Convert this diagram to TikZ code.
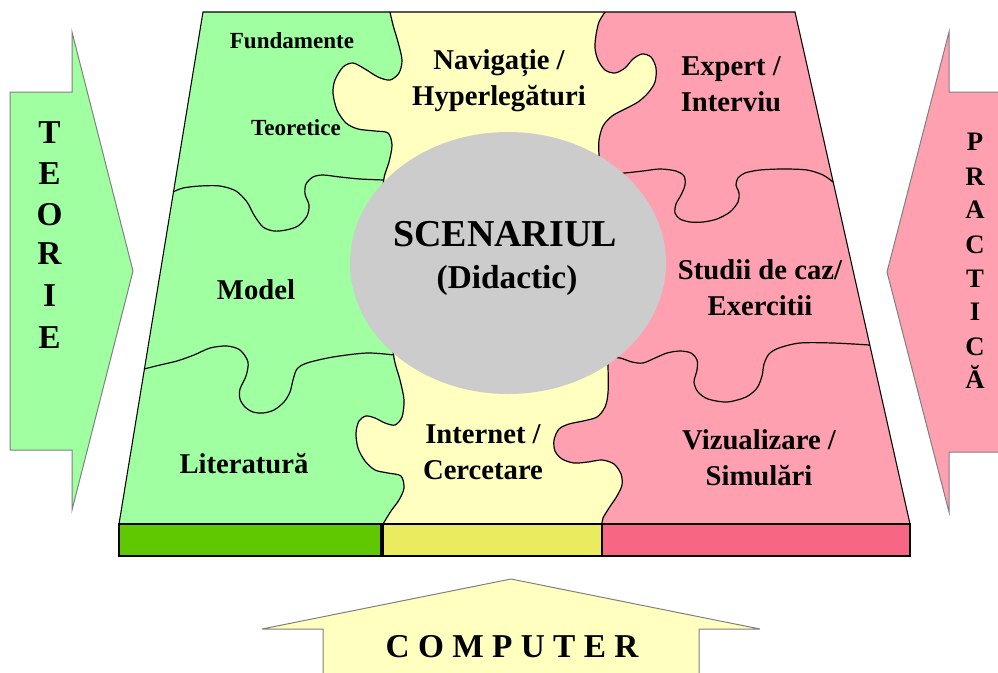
\documentclass[tikz,border=0pt]{standalone}
\usepackage{fontspec}
\setmainfont{Liberation Serif}
\usetikzlibrary{shapes.geometric}
\definecolor{gfill}{HTML}{A0FFA0}
\definecolor{yfill}{HTML}{FFFFC0}
\definecolor{pfill}{HTML}{FFA0B0}
\definecolor{gbar}{HTML}{5FC800}
\definecolor{ybar}{HTML}{EBEB5F}
\definecolor{pbar}{HTML}{F76682}
\definecolor{scen}{HTML}{CCCCCC}
\definecolor{arrline}{HTML}{808080}
\begin{document}
\begin{tikzpicture}[x=0.75pt,y=-0.75pt,
  seam/.style={line width=0.9pt,black},
  lbl/.style={font=\fontsize{21.5}{27}\selectfont\bfseries,align=center,inner sep=0pt},
  slbl/.style={font=\fontsize{17.3}{21}\selectfont\bfseries,inner sep=0pt},
  teolet/.style={font=\fontsize{25}{30}\selectfont\bfseries,inner sep=0pt,anchor=base},
  pralet/.style={font=\fontsize{20}{24}\selectfont\bfseries,inner sep=0pt,anchor=base},
  bigarrow/.style={draw=arrline,line width=0.75pt},
  barbox/.style={draw=black,line width=0.8pt}]
\useasboundingbox (0,0) rectangle (998,672);
\clip (0,0) rectangle (998,672);

% side and bottom arrows
\path[bigarrow,fill=gfill] (10,92) -- (72,92) -- (72,32) -- (133,271) -- (72,510) -- (72,450) -- (10,450) -- cycle;
\path[bigarrow,fill=pfill] (1010,92) -- (949,92) -- (949,32) -- (887,272) -- (949,512) -- (949,452) -- (1010,452) -- cycle;
\path[bigarrow,fill=yfill] (323,690) -- (323,629) -- (262,629) -- (511,579) -- (760,629) -- (699,629) -- (699,690) -- cycle;

% puzzle fills
\fill[pfill] (203,12) -- (795,12) -- (910,524) -- (119,524) -- cycle;
\fill[yfill] (203,12) -- plot[smooth] coordinates {(605,12) (599,22) (596,35) (595,48) (598,60) (605,70) (615,73) (625,68) (633,59) (642,54) (651,57) (656,68) (655,82) (648,93) (638,102) (625,109) (612,116) (603,126) (599,140) (599,155) (601,180) (604,260) (606,330) (608,367) (608,393) (605,407) (597,417) (583,421) (569,424) (559,429) (554,440) (555,451) (562,459) (574,463) (588,462) (602,460) (614,464) (621,474) (622,485) (617,496) (609,508) (603,518) (602,524)} -- (119,524) -- cycle;
\fill[gfill] (203,12) -- plot[smooth] coordinates {(390,12) (393,25) (398,42) (402,60) (399,73) (390,80) (378,77) (365,69) (353,63) (343,67) (335,80) (333,93) (337,110) (346,123) (358,129) (375,131) (388,133) (392,145) (389,162) (384,178) (383,200) (386,260) (390,320) (394,358) (400,380) (404,400) (402,417) (395,425) (385,423) (375,418) (366,416) (359,421) (356,433) (358,448) (365,461) (375,470) (388,473) (401,476) (404,488) (399,500) (391,511) (383,524)} -- (119,524) -- cycle;

% seams
\draw[seam] plot[smooth] coordinates {(605,12) (599,22) (596,35) (595,48) (598,60) (605,70) (615,73) (625,68) (633,59) (642,54) (651,57) (656,68) (655,82) (648,93) (638,102) (625,109) (612,116) (603,126) (599,140) (599,155) (601,180) (604,260) (606,330) (608,367) (608,393) (605,407) (597,417) (583,421) (569,424) (559,429) (554,440) (555,451) (562,459) (574,463) (588,462) (602,460) (614,464) (621,474) (622,485) (617,496) (609,508) (603,518) (602,524)};
\draw[seam] plot[smooth] coordinates {(390,12) (393,25) (398,42) (402,60) (399,73) (390,80) (378,77) (365,69) (353,63) (343,67) (335,80) (333,93) (337,110) (346,123) (358,129) (375,131) (388,133) (392,145) (389,162) (384,178) (383,200) (386,260) (390,320) (394,358) (400,380) (404,400) (402,417) (395,425) (385,423) (375,418) (366,416) (359,421) (356,433) (358,448) (365,461) (375,470) (388,473) (401,476) (404,488) (399,500) (391,511) (383,524)};
\draw[seam] plot[smooth] coordinates {(173,192) (183,188) (200,186) (220,186) (236,191) (247,202) (254,215) (263,227) (274,231) (286,230) (298,226) (307,216) (309,205) (305,194) (306,184) (313,177) (323,175) (340,177) (360,179) (384,180)};
\draw[seam] plot[smooth] coordinates {(144,369) (160,365) (177,361) (194,355) (210,348) (227,346) (240,350) (248,362) (246,376) (240,389) (240,399) (245,407) (253,412) (263,413) (274,410) (284,402) (290,392) (293,380) (297,369) (307,363) (333,357) (367,353) (394,355)};
\draw[seam] plot[smooth] coordinates {(600,177) (612,174) (625,173) (643,171) (660,169) (676,171) (684,176) (685,185) (681,195) (676,204) (675,213) (680,219) (690,222) (703,222) (717,219) (730,212) (738,202) (739,193) (736,185) (738,178) (745,173) (760,170) (783,169) (807,170) (823,175) (833,182)};
\draw[seam] plot[smooth] coordinates {(606,357) (620,358) (632,362) (643,363) (655,358) (667,353) (680,351) (691,353) (697,360) (697,370) (694,382) (698,392) (708,399) (727,402) (746,397) (757,388) (762,376) (764,364) (769,354) (779,348) (800,343) (833,343) (870,345)};

% outline of the board
\draw[line width=0.8pt] (119,524) -- (203,12) -- (795,12) -- (910,524);

% central ellipse
\node[ellipse,fill=scen,draw=none,inner sep=0pt,minimum width=237pt,minimum height=196.5pt] (scen) at (508,263) {};

% bars
\draw[barbox,fill=gbar] (119,524) rectangle (381,556);
\draw[barbox,fill=ybar] (383,524) rectangle (602,556);
\draw[barbox,fill=pbar] (602,524) rectangle (910,556);

% labels
\node[slbl] (fund) at (292,41) {Fundamente};
\node[slbl] (teor) at (296,127.5) {Teoretice};
\node[lbl] (nav) at (499,80.5) {Navigație /\\Hyperlegături};
\node[lbl] (exp) at (731,84.5) {Expert /\\Interviu};
\node[font=\fontsize{28.5}{34}\selectfont\bfseries,inner sep=0pt] (sc1) at (505,234) {SCENARIUL};
\node[font=\fontsize{25}{30}\selectfont\bfseries,inner sep=0pt] (sc2) at (507,280) {(Didactic)};
\node[lbl] (model) at (256,290) {Model};
\node[lbl] (stud) at (760,287.5) {Studii de caz/\\Exercitii};
\node[lbl] (inet) at (483,452.5) {Internet /\\Cercetare};
\node[lbl] (lit) at (244,464) {Literatură};
\node[lbl] (viz) at (759,458) {Vizualizare /\\Simulări};

% arrow texts
\foreach \l/\y [count=\i] in {T/143,E/184,O/225.5,R/264.5,I/306.5,E/348.5}
  \node[teolet] (teo\i) at (49.5,\y) {\l};
\foreach \l/\y [count=\i] in {P/150,R/185,A/218,C/253,T/287,I/320,C/355,Ă/388}
  \node[pralet] (pra\i) at (975,\y) {\l};
\node[font=\fontsize{25}{30}\selectfont\bfseries,inner sep=0pt,anchor=base] (comp) at (512,657) {C O M P U T E R};
\end{tikzpicture}
\end{document}
